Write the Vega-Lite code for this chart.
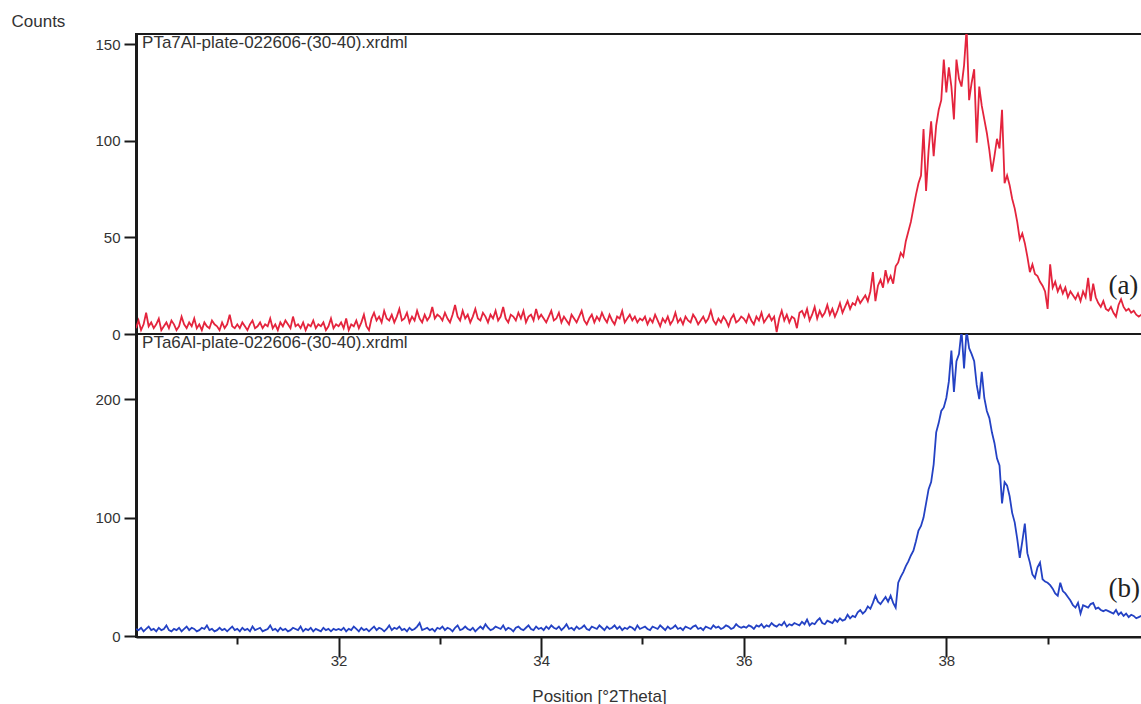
{
"$schema": "https://vega.github.io/schema/vega-lite/v6.json",
"padding": {"left": 10, "top": 11, "right": 0, "bottom": 0},
"background": "white",
"bounds": "flush",
"spacing": 0,
"config": {
  "font": "Liberation Sans",
  "view": {"stroke": "#1a1a1a", "strokeWidth": 2},
  "axis": {"grid": false, "labelFont": "Liberation Sans", "labelFontSize": 15, "labelColor": "#333", "titleFont": "Liberation Sans", "titleFontSize": 17, "titleFontWeight": "normal", "titleColor": "#333", "domainColor": "#1a1a1a", "tickColor": "#1a1a1a", "tickWidth": 2, "labelFlush": false}
},
"datasets": {
"lab": [
{"p":"a","k":"file","x":30.06,"y":155.2,"t":"PTa7Al-plate-022606-(30-40).xrdml"},
{"p":"a","k":"tag","x":39.6,"y":25,"t":"(a)"},
{"p":"b","k":"file","x":30.06,"y":255,"t":"PTa6Al-plate-022606-(30-40).xrdml"},
{"p":"b","k":"tag","x":39.6,"y":40,"t":"(b)"}
],
"xrd": [
{"x":30,"a":3,"b":6},{"x":30.025,"a":7,"b":5},{"x":30.05,"a":2,"b":7},{"x":30.075,"a":5,"b":4},{"x":30.1,"a":11,"b":6},{"x":30.125,"a":4,"b":8},{"x":30.15,"a":6,"b":5},{"x":30.175,"a":3,"b":6},{"x":30.2,"a":5,"b":4},{"x":30.225,"a":8,"b":7},{"x":30.25,"a":2,"b":5},{"x":30.275,"a":4,"b":6},{"x":30.3,"a":6,"b":9},{"x":30.325,"a":3,"b":5},{"x":30.35,"a":7,"b":4},{"x":30.375,"a":5,"b":6},{"x":30.4,"a":2,"b":5},{"x":30.425,"a":4,"b":7},{"x":30.45,"a":9,"b":4},{"x":30.475,"a":5,"b":6},{"x":30.5,"a":3,"b":8},{"x":30.525,"a":6,"b":5},{"x":30.55,"a":4,"b":7},{"x":30.575,"a":8,"b":6},{"x":30.6,"a":3,"b":4},{"x":30.625,"a":5,"b":5},{"x":30.65,"a":2,"b":7},{"x":30.675,"a":6,"b":6},{"x":30.7,"a":4,"b":9},{"x":30.725,"a":3,"b":5},{"x":30.75,"a":7,"b":6},{"x":30.775,"a":5,"b":4},{"x":30.8,"a":4,"b":5},{"x":30.825,"a":2,"b":7},{"x":30.85,"a":6,"b":5},{"x":30.875,"a":3,"b":6},{"x":30.9,"a":5,"b":4},{"x":30.925,"a":10,"b":6},{"x":30.95,"a":4,"b":8},{"x":30.975,"a":3,"b":5},
{"x":31,"a":5,"b":6},{"x":31.025,"a":3,"b":4},{"x":31.05,"a":6,"b":7},{"x":31.075,"a":4,"b":5},{"x":31.1,"a":2,"b":6},{"x":31.125,"a":5,"b":4},{"x":31.15,"a":7,"b":8},{"x":31.175,"a":3,"b":5},{"x":31.2,"a":4,"b":6},{"x":31.225,"a":6,"b":7},{"x":31.25,"a":3,"b":4},{"x":31.275,"a":5,"b":5},{"x":31.3,"a":4,"b":6},{"x":31.325,"a":8,"b":9},{"x":31.35,"a":3,"b":5},{"x":31.375,"a":5,"b":6},{"x":31.4,"a":2,"b":4},{"x":31.425,"a":6,"b":7},{"x":31.45,"a":4,"b":5},{"x":31.475,"a":7,"b":6},{"x":31.5,"a":5,"b":4},{"x":31.525,"a":3,"b":5},{"x":31.55,"a":9,"b":7},{"x":31.575,"a":4,"b":6},{"x":31.6,"a":5,"b":5},{"x":31.625,"a":3,"b":8},{"x":31.65,"a":6,"b":4},{"x":31.675,"a":2,"b":6},{"x":31.7,"a":5,"b":5},{"x":31.725,"a":4,"b":7},{"x":31.75,"a":7,"b":4},{"x":31.775,"a":3,"b":6},{"x":31.8,"a":5,"b":5},{"x":31.825,"a":4,"b":4},{"x":31.85,"a":6,"b":7},{"x":31.875,"a":2,"b":5},{"x":31.9,"a":4,"b":6},{"x":31.925,"a":8,"b":4},{"x":31.95,"a":3,"b":6},{"x":31.975,"a":5,"b":5},
{"x":32,"a":4,"b":6},{"x":32.025,"a":6,"b":5},{"x":32.05,"a":3,"b":7},{"x":32.075,"a":8,"b":4},{"x":32.1,"a":2,"b":6},{"x":32.125,"a":5,"b":5},{"x":32.15,"a":4,"b":8},{"x":32.175,"a":7,"b":6},{"x":32.2,"a":3,"b":4},{"x":32.225,"a":6,"b":7},{"x":32.25,"a":10,"b":5},{"x":32.275,"a":4,"b":6},{"x":32.3,"a":2,"b":4},{"x":32.325,"a":8,"b":6},{"x":32.35,"a":11,"b":8},{"x":32.375,"a":7,"b":5},{"x":32.4,"a":9,"b":7},{"x":32.425,"a":6,"b":6},{"x":32.45,"a":12,"b":4},{"x":32.475,"a":8,"b":6},{"x":32.5,"a":7,"b":9},{"x":32.525,"a":10,"b":5},{"x":32.55,"a":6,"b":7},{"x":32.575,"a":9,"b":6},{"x":32.6,"a":13,"b":8},{"x":32.625,"a":7,"b":5},{"x":32.65,"a":8,"b":6},{"x":32.675,"a":11,"b":4},{"x":32.7,"a":6,"b":7},{"x":32.725,"a":9,"b":5},{"x":32.75,"a":7,"b":6},{"x":32.775,"a":12,"b":8},{"x":32.8,"a":8,"b":11},{"x":32.825,"a":6,"b":5},{"x":32.85,"a":10,"b":6},{"x":32.875,"a":7,"b":7},{"x":32.9,"a":9,"b":5},{"x":32.925,"a":14,"b":6},{"x":32.95,"a":8,"b":4},{"x":32.975,"a":10,"b":7},
{"x":33,"a":9,"b":6},{"x":33.025,"a":7,"b":8},{"x":33.05,"a":11,"b":5},{"x":33.075,"a":8,"b":7},{"x":33.1,"a":6,"b":6},{"x":33.125,"a":10,"b":4},{"x":33.15,"a":15,"b":7},{"x":33.175,"a":9,"b":9},{"x":33.2,"a":7,"b":5},{"x":33.225,"a":12,"b":6},{"x":33.25,"a":8,"b":8},{"x":33.275,"a":10,"b":6},{"x":33.3,"a":6,"b":5},{"x":33.325,"a":9,"b":7},{"x":33.35,"a":13,"b":4},{"x":33.375,"a":8,"b":6},{"x":33.4,"a":7,"b":8},{"x":33.425,"a":11,"b":6},{"x":33.45,"a":9,"b":10},{"x":33.475,"a":6,"b":7},{"x":33.5,"a":10,"b":5},{"x":33.525,"a":8,"b":6},{"x":33.55,"a":12,"b":8},{"x":33.575,"a":7,"b":7},{"x":33.6,"a":9,"b":6},{"x":33.625,"a":14,"b":9},{"x":33.65,"a":8,"b":5},{"x":33.675,"a":6,"b":7},{"x":33.7,"a":10,"b":6},{"x":33.725,"a":9,"b":4},{"x":33.75,"a":7,"b":7},{"x":33.775,"a":11,"b":8},{"x":33.8,"a":8,"b":6},{"x":33.825,"a":12,"b":5},{"x":33.85,"a":6,"b":7},{"x":33.875,"a":9,"b":9},{"x":33.9,"a":10,"b":6},{"x":33.925,"a":7,"b":5},{"x":33.95,"a":13,"b":8},{"x":33.975,"a":8,"b":6},
{"x":34,"a":10,"b":7},{"x":34.025,"a":8,"b":5},{"x":34.05,"a":6,"b":8},{"x":34.075,"a":9,"b":6},{"x":34.1,"a":12,"b":9},{"x":34.125,"a":7,"b":7},{"x":34.15,"a":8,"b":6},{"x":34.175,"a":11,"b":8},{"x":34.2,"a":6,"b":5},{"x":34.225,"a":9,"b":7},{"x":34.25,"a":7,"b":10},{"x":34.275,"a":5,"b":6},{"x":34.3,"a":10,"b":7},{"x":34.325,"a":8,"b":5},{"x":34.35,"a":6,"b":8},{"x":34.375,"a":9,"b":6},{"x":34.4,"a":12,"b":7},{"x":34.425,"a":7,"b":9},{"x":34.45,"a":5,"b":6},{"x":34.475,"a":8,"b":5},{"x":34.5,"a":10,"b":8},{"x":34.525,"a":6,"b":7},{"x":34.55,"a":9,"b":6},{"x":34.575,"a":7,"b":9},{"x":34.6,"a":11,"b":7},{"x":34.625,"a":8,"b":5},{"x":34.65,"a":6,"b":8},{"x":34.675,"a":10,"b":6},{"x":34.7,"a":7,"b":7},{"x":34.725,"a":5,"b":9},{"x":34.75,"a":9,"b":6},{"x":34.775,"a":8,"b":8},{"x":34.8,"a":12,"b":5},{"x":34.825,"a":6,"b":7},{"x":34.85,"a":8,"b":6},{"x":34.875,"a":10,"b":8},{"x":34.9,"a":7,"b":7},{"x":34.925,"a":9,"b":5},{"x":34.95,"a":6,"b":9},{"x":34.975,"a":8,"b":6},
{"x":35,"a":7,"b":7},{"x":35.025,"a":9,"b":8},{"x":35.05,"a":5,"b":6},{"x":35.075,"a":8,"b":5},{"x":35.1,"a":6,"b":8},{"x":35.125,"a":10,"b":7},{"x":35.15,"a":7,"b":6},{"x":35.175,"a":4,"b":9},{"x":35.2,"a":8,"b":7},{"x":35.225,"a":6,"b":5},{"x":35.25,"a":9,"b":8},{"x":35.275,"a":5,"b":6},{"x":35.3,"a":7,"b":7},{"x":35.325,"a":11,"b":9},{"x":35.35,"a":6,"b":6},{"x":35.375,"a":8,"b":7},{"x":35.4,"a":5,"b":5},{"x":35.425,"a":9,"b":8},{"x":35.45,"a":7,"b":7},{"x":35.475,"a":6,"b":6},{"x":35.5,"a":10,"b":8},{"x":35.525,"a":8,"b":9},{"x":35.55,"a":5,"b":6},{"x":35.575,"a":7,"b":7},{"x":35.6,"a":9,"b":5},{"x":35.625,"a":6,"b":8},{"x":35.65,"a":8,"b":7},{"x":35.675,"a":12,"b":6},{"x":35.7,"a":7,"b":9},{"x":35.725,"a":5,"b":7},{"x":35.75,"a":8,"b":8},{"x":35.775,"a":6,"b":6},{"x":35.8,"a":9,"b":7},{"x":35.825,"a":7,"b":9},{"x":35.85,"a":4,"b":8},{"x":35.875,"a":8,"b":6},{"x":35.9,"a":10,"b":7},{"x":35.925,"a":6,"b":10},{"x":35.95,"a":7,"b":8},{"x":35.975,"a":9,"b":7},
{"x":36,"a":8,"b":8},{"x":36.025,"a":6,"b":7},{"x":36.05,"a":10,"b":9},{"x":36.075,"a":7,"b":8},{"x":36.1,"a":5,"b":6},{"x":36.125,"a":9,"b":9},{"x":36.15,"a":7,"b":8},{"x":36.175,"a":11,"b":10},{"x":36.2,"a":6,"b":7},{"x":36.225,"a":8,"b":9},{"x":36.25,"a":10,"b":8},{"x":36.275,"a":7,"b":11},{"x":36.3,"a":9,"b":9},{"x":36.325,"a":1,"b":8},{"x":36.35,"a":8,"b":10},{"x":36.375,"a":12,"b":9},{"x":36.4,"a":7,"b":12},{"x":36.425,"a":10,"b":8},{"x":36.45,"a":6,"b":10},{"x":36.475,"a":9,"b":9},{"x":36.5,"a":8,"b":11},{"x":36.525,"a":3,"b":10},{"x":36.55,"a":11,"b":9},{"x":36.575,"a":12,"b":12},{"x":36.6,"a":9,"b":10},{"x":36.625,"a":13,"b":14},{"x":36.65,"a":7,"b":9},{"x":36.675,"a":10,"b":11},{"x":36.7,"a":14,"b":10},{"x":36.725,"a":8,"b":13},{"x":36.75,"a":12,"b":15},{"x":36.775,"a":9,"b":11},{"x":36.8,"a":11,"b":10},{"x":36.825,"a":15,"b":13},{"x":36.85,"a":10,"b":12},{"x":36.875,"a":13,"b":11},{"x":36.9,"a":9,"b":14},{"x":36.925,"a":12,"b":12},{"x":36.95,"a":16,"b":15},{"x":36.975,"a":11,"b":13},
{"x":37,"a":14,"b":14},{"x":37.025,"a":17,"b":18},{"x":37.05,"a":13,"b":15},{"x":37.075,"a":16,"b":17},{"x":37.1,"a":15,"b":16},{"x":37.125,"a":19,"b":20},{"x":37.15,"a":16,"b":22},{"x":37.175,"a":18,"b":19},{"x":37.2,"a":20,"b":21},{"x":37.225,"a":17,"b":25},{"x":37.25,"a":22,"b":23},{"x":37.275,"a":32,"b":28},{"x":37.3,"a":17,"b":34},{"x":37.325,"a":25,"b":29},{"x":37.35,"a":28,"b":27},{"x":37.375,"a":24,"b":30},{"x":37.4,"a":33,"b":33},{"x":37.425,"a":27,"b":29},{"x":37.45,"a":30,"b":34},{"x":37.475,"a":26,"b":28},{"x":37.5,"a":35,"b":24},{"x":37.525,"a":37,"b":45},{"x":37.55,"a":42,"b":50},{"x":37.575,"a":40,"b":54},{"x":37.6,"a":48,"b":59},{"x":37.625,"a":53,"b":63},{"x":37.65,"a":58,"b":68},{"x":37.675,"a":65,"b":72},{"x":37.7,"a":72,"b":80},{"x":37.725,"a":78,"b":89},{"x":37.75,"a":82,"b":93},{"x":37.775,"a":106,"b":100},{"x":37.8,"a":74,"b":112},{"x":37.825,"a":95,"b":124},{"x":37.85,"a":110,"b":130},{"x":37.875,"a":92,"b":145},{"x":37.9,"a":108,"b":172},{"x":37.925,"a":116,"b":180},{"x":37.95,"a":121,"b":190},{"x":37.975,"a":142,"b":193},
{"x":38,"a":125,"b":201},{"x":38.025,"a":138,"b":215},{"x":38.05,"a":128,"b":241},{"x":38.075,"a":111,"b":206},{"x":38.1,"a":142,"b":232},{"x":38.125,"a":132,"b":238},{"x":38.15,"a":128,"b":258},{"x":38.175,"a":139,"b":226},{"x":38.2,"a":158,"b":258},{"x":38.225,"a":121,"b":243},{"x":38.25,"a":130,"b":238},{"x":38.275,"a":137,"b":232},{"x":38.3,"a":99,"b":212},{"x":38.325,"a":128,"b":200},{"x":38.35,"a":118,"b":223},{"x":38.375,"a":111,"b":201},{"x":38.4,"a":104,"b":190},{"x":38.425,"a":95,"b":184},{"x":38.45,"a":84,"b":172},{"x":38.475,"a":92,"b":163},{"x":38.5,"a":101,"b":150},{"x":38.525,"a":96,"b":144},{"x":38.55,"a":116,"b":112},{"x":38.575,"a":78,"b":130},{"x":38.6,"a":82,"b":127},{"x":38.625,"a":77,"b":118},{"x":38.65,"a":70,"b":104},{"x":38.675,"a":65,"b":96},{"x":38.7,"a":58,"b":82},{"x":38.725,"a":49,"b":66},{"x":38.75,"a":52,"b":80},{"x":38.775,"a":47,"b":95},{"x":38.8,"a":40,"b":70},{"x":38.825,"a":32,"b":62},{"x":38.85,"a":36,"b":52},{"x":38.875,"a":31,"b":49},{"x":38.9,"a":30,"b":58},{"x":38.925,"a":27,"b":62},{"x":38.95,"a":25,"b":48},{"x":38.975,"a":22,"b":46},
{"x":39,"a":13,"b":45},{"x":39.025,"a":36,"b":43},{"x":39.05,"a":24,"b":40},{"x":39.075,"a":27,"b":36},{"x":39.1,"a":22,"b":34},{"x":39.125,"a":25,"b":45},{"x":39.15,"a":21,"b":38},{"x":39.175,"a":24,"b":36},{"x":39.2,"a":19,"b":33},{"x":39.225,"a":22,"b":30},{"x":39.25,"a":20,"b":26},{"x":39.275,"a":18,"b":24},{"x":39.3,"a":21,"b":28},{"x":39.325,"a":17,"b":19},{"x":39.35,"a":22,"b":26},{"x":39.375,"a":19,"b":25},{"x":39.4,"a":29,"b":24},{"x":39.425,"a":17,"b":27},{"x":39.45,"a":26,"b":28},{"x":39.475,"a":19,"b":23},{"x":39.5,"a":16,"b":24},{"x":39.525,"a":14,"b":22},{"x":39.55,"a":17,"b":21},{"x":39.575,"a":13,"b":22},{"x":39.6,"a":12,"b":21},{"x":39.625,"a":14,"b":20},{"x":39.65,"a":11,"b":19},{"x":39.675,"a":9,"b":22},{"x":39.7,"a":15,"b":18},{"x":39.725,"a":18,"b":20},{"x":39.75,"a":14,"b":17},{"x":39.775,"a":12,"b":19},{"x":39.8,"a":13,"b":16},{"x":39.825,"a":11,"b":18},{"x":39.85,"a":12,"b":17},{"x":39.875,"a":10,"b":15},{"x":39.9,"a":9,"b":16},{"x":39.925,"a":10,"b":17}
]
},
"vconcat": [
{
  "width": 1020, "height": 300,
  "layer": [
    {"data": {"name": "xrd"},
     "mark": {"type": "line", "color": "#e4243d", "strokeWidth": 1.8, "clip": true},
     "encoding": {
       "x": {"field": "x", "type": "quantitative", "scale": {"domain": [30, 40.07], "nice": false, "zero": false}, "axis": null},
       "y": {"field": "a", "type": "quantitative", "scale": {"domain": [0, 155.2], "nice": false}, "axis": {"values": [0, 50, 100, 150], "format": "d", "labelFontSize": 15, "tickSize": 12, "labelPadding": 4, "domainWidth": 3, "title": "Counts", "titleFontSize": 17, "titleAngle": 0, "titleX": -125, "titleY": -21, "titleAlign": "left", "titleBaseline": "top"}}
     }},
    {"data": {"name": "lab"}, "transform": [{"filter": "datum.p == 'a' && datum.k == 'file'"}],
     "mark": {"type": "text", "align": "left", "baseline": "top", "fontSize": 17, "color": "#333", "dy": 1},
     "encoding": {"x": {"field": "x", "type": "quantitative"}, "y": {"field": "y", "type": "quantitative"}, "text": {"field": "t"}}},
    {"data": {"name": "lab"}, "transform": [{"filter": "datum.p == 'a' && datum.k == 'tag'"}],
     "mark": {"type": "text", "align": "left", "baseline": "middle", "font": "Liberation Serif", "fontSize": 27, "color": "#222"},
     "encoding": {"x": {"field": "x", "type": "quantitative"}, "y": {"field": "y", "type": "quantitative"}, "text": {"field": "t"}}}
  ]
},
{
  "width": 1020, "height": 303,
  "layer": [
    {"data": {"name": "xrd"},
     "mark": {"type": "line", "color": "#2442c4", "strokeWidth": 1.8, "clip": true},
     "encoding": {
       "x": {"field": "x", "type": "quantitative", "scale": {"domain": [30, 40.07], "nice": false, "zero": false},
             "axis": {"values": [31, 32, 33, 34, 35, 36, 37, 38, 39], "format": "d", "labelFontSize": 15, "labelExpr": "datum.value % 2 == 0 ? datum.label : ''", "tickSize": {"condition": {"test": "datum.value % 2 == 0", "value": 20}, "value": 7}, "labelPadding": -4, "labelOverlap": false, "domainWidth": 2, "title": "Position [°2Theta]", "titleFontSize": 17, "titleX": 463, "titleY": 59, "titleAlign": "center", "titleBaseline": "middle"}},
       "y": {"field": "b", "type": "quantitative", "scale": {"domain": [-0.8, 255], "nice": false, "zero": false}, "axis": {"values": [0, 100, 200], "format": "d", "labelFontSize": 15, "tickSize": 12, "labelPadding": 4, "domainWidth": 3, "title": null}}
     }},
    {"data": {"name": "lab"}, "transform": [{"filter": "datum.p == 'b' && datum.k == 'file'"}],
     "mark": {"type": "text", "align": "left", "baseline": "top", "fontSize": 17, "color": "#333", "dy": 1},
     "encoding": {"x": {"field": "x", "type": "quantitative"}, "y": {"field": "y", "type": "quantitative"}, "text": {"field": "t"}}},
    {"data": {"name": "lab"}, "transform": [{"filter": "datum.p == 'b' && datum.k == 'tag'"}],
     "mark": {"type": "text", "align": "left", "baseline": "middle", "font": "Liberation Serif", "fontSize": 27, "color": "#222"},
     "encoding": {"x": {"field": "x", "type": "quantitative"}, "y": {"field": "y", "type": "quantitative"}, "text": {"field": "t"}}}
  ]
}
]
}
